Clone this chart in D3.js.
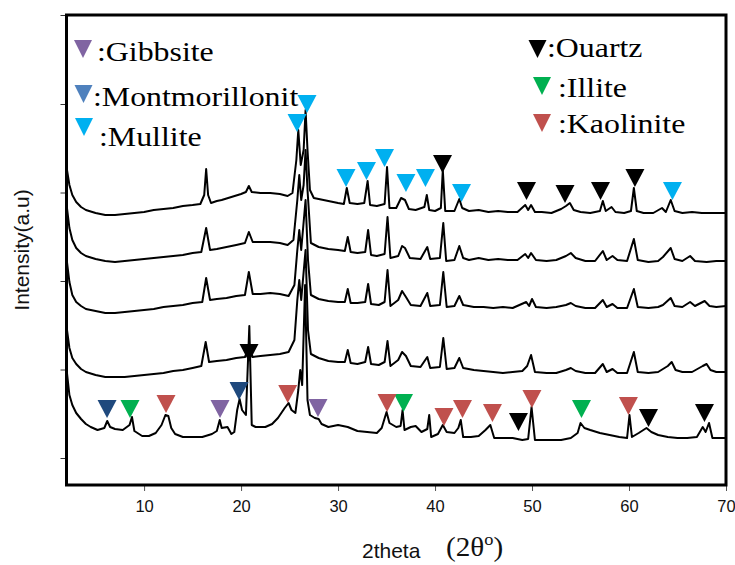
<!DOCTYPE html>
<html><head><meta charset="utf-8">
<script src="https://cdn.jsdelivr.net/npm/d3@7"></script>
<style>body{margin:0;background:#fff}svg{display:block}</style>
</head><body>
<svg id="c" width="735" height="565"></svg>
<script>
// ---- data (2theta, intensity a.u.) ----
const xTicks = [10,20,30,40,50,60,70];
const yTicks = [27,115.5,204,292.5,381,470];

const trace1 = [[2.05,315],[2.3,300],[2.6,290],[3,283],[3.5,278],[4,275],[5,272],[6,270],[7,270],[8,271],[9,272],[10,273],[11,275],[12,276],[13,277],[14,279],[15,280],[15.8,281],[16.2,290],[16.4,316],[16.6,290],[16.9,282],[17.5,284],[18,285],[19,288],[20,291],[20.5,293],[20.8,299],[21.1,293],[22,292],[23,292],[24,291],[24.8,289],[25.3,292],[25.7,325],[25.9,355],[26.15,320],[26.45,335],[26.65,375],[26.85,335],[27.1,295],[27.5,287],[28,286],[29,284],[30,282],[30.6,281],[30.9,297],[31.2,282],[32,281],[32.7,282],[33.05,304],[33.3,280],[34,279],[34.8,281],[35.05,318],[35.3,277],[36,277],[36.5,287],[36.9,285],[37.3,276],[38,275],[38.9,278],[39.15,290],[39.4,275],[40,274],[40.6,277],[40.8,315],[41.05,274],[42,274],[42.5,286],[42.8,277],[43.5,274],[44.5,275],[45.5,273],[46.5,274],[47.5,273],[48.5,273],[49.3,280],[49.6,275],[49.9,280],[50.3,273],[51,273],[52,272],[53,276],[53.5,279],[53.9,282],[54.3,275],[55,273],[56,272],[57,274],[57.3,284],[57.6,274],[58.2,278],[58.6,273],[59.5,272],[60.2,274],[60.5,297],[60.8,274],[61.5,272],[62.5,272],[63.4,277],[63.8,273],[64.3,285],[64.7,274],[65.5,272],[66.5,273],[67.5,272],[68.5,272],[70,272]];

const trace2 = [[2.05,277],[2.3,257],[2.6,245],[3,237],[3.5,232],[4,229],[5,226],[6,224],[7,223],[8,224],[9,225],[10,226],[11,227],[12,228],[13,229],[14,230],[15,232],[15.9,233],[16.4,257],[16.8,235],[17.5,236],[18.5,238],[19.5,240],[20.4,242],[20.8,253],[21.2,243],[22,243],[23,243],[24,242],[24.8,240],[25.4,245],[25.8,285],[26,310],[26.2,285],[26.45,300],[26.65,335],[26.85,295],[27.2,242],[28,238],[29,236],[30,235],[30.7,234],[31,248],[31.3,233],[32,232],[32.8,233],[33.1,255],[33.4,230],[34,229],[34.8,231],[35.1,268],[35.4,227],[36.2,229],[36.6,239],[36.9,237],[37.4,227],[38.5,226],[39.2,238],[39.5,226],[40.5,227],[40.85,262],[41.15,224],[42,225],[42.5,239],[42.9,227],[43.5,225],[44.5,227],[45.5,225],[46.5,226],[47.5,225],[48.5,225],[49.3,231],[49.6,227],[49.9,232],[50.4,225],[51.5,224],[52.5,225],[53.5,229],[54,232],[54.5,227],[55.5,224],[56.5,224],[57.3,234],[57.7,225],[58.3,229],[58.8,225],[59.8,224],[60.5,246],[60.9,225],[62,223],[63,224],[63.5,228],[64.3,237],[64.7,226],[65.5,224],[66.3,229],[66.8,224],[68,223],[69,224],[70,224]];

const trace3 = [[2.05,223],[2.3,203],[2.6,190],[3,183],[3.5,179],[4,176],[5,174],[6,172],[7,172],[8,173],[9,174],[10,175],[11,176],[12,178],[13,179],[14,180],[15,182],[16,183],[16.4,207],[16.8,185],[17.5,186],[18.5,187],[19.5,189],[20.4,190],[20.8,213],[21.2,191],[22,191],[23,192],[24,191],[24.9,189],[25.5,200],[25.8,235],[26,255],[26.2,235],[26.65,285],[26.9,225],[27.2,190],[28,186],[29,184],[30,183],[30.7,183],[31,196],[31.3,182],[32,182],[32.8,183],[33.1,201],[33.4,181],[34.2,180],[34.8,183],[35.1,215],[35.4,179],[36.2,185],[36.6,194],[37,188],[37.5,180],[38.5,179],[39.2,192],[39.5,179],[40.5,180],[40.85,213],[41.2,178],[42,179],[42.5,189],[42.9,180],[44,178],[45,178],[46,177],[47,178],[48,177],[49.4,183],[49.7,179],[50,186],[50.4,178],[51.5,177],[52.5,178],[53.5,180],[54,182],[54.5,179],[55.5,177],[56.5,177],[57.3,185],[57.7,178],[58.3,181],[58.8,177],[59.8,177],[60.5,196],[60.9,178],[62,177],[63,178],[63.5,180],[64.3,187],[64.7,179],[65.5,178],[66.3,183],[66.8,179],[67.8,184],[68.3,179],[69,178],[70,179]];

const trace4 = [[2.05,155],[2.3,137],[2.6,127],[3,121],[3.5,116],[4,113],[5,110],[6,108],[7,108],[8,108],[9,109],[10,110],[11,111],[12,112],[13,114],[14,115],[15,117],[15.9,119],[16.35,143],[16.7,123],[17.5,124],[18.5,125],[19.5,127],[20.4,128],[20.8,137],[21.2,128],[22,129],[23,130],[24,131],[24.9,133],[25.5,145],[25.8,185],[26,205],[26.2,185],[26.65,235],[26.9,155],[27.2,131],[28,127],[29,124],[30,123],[30.7,123],[31,135],[31.3,122],[32,121],[32.8,123],[33.1,138],[33.4,121],[34.2,120],[34.8,123],[35.1,144],[35.4,119],[36.2,125],[36.6,133],[37,129],[37.5,119],[38.5,118],[39.2,128],[39.5,117],[40.5,118],[40.85,147],[41.2,116],[42,117],[42.5,127],[42.9,117],[44,115],[45,114],[46,113],[47,112],[48,113],[49,114],[49.5,119],[49.9,130],[50.3,113],[51.5,112],[52.5,112],[53.5,115],[54,117],[54.5,114],[55.5,112],[56.5,112],[57.3,121],[57.7,113],[58.3,116],[58.8,112],[59.8,112],[60.5,133],[60.9,113],[62,112],[63,113],[64,119],[64.4,123],[64.8,115],[65.5,113],[66.5,113],[67.6,119],[68,121],[68.4,115],[69,113],[70,113]];

const trace5 = [[2.05,112],[2.3,90],[2.6,80],[3,72],[3.5,66],[4,61],[4.5,58],[5.2,55],[5.9,57],[6.2,64],[6.5,58],[7,56],[7.8,55],[8.5,60],[8.75,68],[9,54],[9.8,49],[10.5,49],[11.2,52],[11.8,60],[12.2,70],[12.5,69],[12.8,57],[13.2,51],[14,48],[15,48],[16,48],[17,51],[17.5,54],[17.8,65],[18,57],[18.6,58],[19,51],[19.3,53],[19.6,75],[19.85,86],[20.1,75],[20.5,70],[20.85,159],[21.1,60],[21.5,58],[22.5,58],[23.2,61],[23.8,67],[24.5,77],[24.9,82],[25.2,75],[25.6,72],[25.9,95],[26.1,115],[26.3,100],[26.6,200],[26.85,85],[27.1,70],[27.6,67],[28,66],[28.3,61],[29,58],[30,60],[31,58],[32,54],[33,53],[34,52],[34.5,57],[35,73],[35.3,62],[36,58],[36.45,59],[36.65,75],[36.85,55],[37.5,58],[38,59],[38.6,53],[39.2,56],[39.4,70],[39.6,48],[40.3,51],[40.8,60],[41.2,53],[42,52],[42.4,57],[42.65,65],[42.9,48],[43.7,48],[44.5,49],[45.2,55],[45.7,60],[46.1,47],[47,47],[48,47],[49,45],[49.6,46],[49.95,78],[50.3,45],[51,45],[52,45],[53,45],[54,47],[54.7,52],[55,62],[55.4,57],[56,55],[57,52],[58,50],[59,48],[59.8,47],[60.05,70],[60.3,48],[61,52],[61.8,57],[62.3,53],[63,50],[64,48],[65,47],[66,47],[67,48],[67.6,58],[67.9,53],[68.25,62],[68.6,47],[69.3,47],[70,47]];

// phase markers: [2theta, intensity at marker tip]
const mulliteMarks = [[25.77,353],[26.8,372],[30.82,298],[32.93,305],[34.79,318],[37.0,293],[39.01,298],[42.73,283],[64.48,285]];
const quartzMarks = [[40.77,312],[49.43,285],[53.4,282],[57.06,285],[60.61,298],[20.82,123],[48.6,54],[62.01,58],[67.78,63]];
const montMarks = [[6.18,67],[19.79,85]];
const illiteMarks = [[8.55,67],[36.75,73],[55.1,67]];
const kaoliniteMarks = [[12.26,72],[24.81,82],[35.05,73],[40.92,59],[42.83,67],[45.92,63],[49.99,77],[59.94,70]];
const gibbsiteMarks = [[17.83,67],[27.93,68]];

const legendNames = [":Gibbsite",":Montmorillonit",":Mullite",":Ouartz",":Illite",":Kaolinite"];
const legendColors = ["#8064A2","#4F81BD","#00B0F0","#000000","#00B050","#C0504D"];

// ---- drawing ----
const svg = d3.select("#c");
const L=66.5, R=726, T=15, B=485;
const x = d3.scaleLinear().domain([2,70]).range([L,R]);
const y = d3.scaleLinear().domain([0,470]).range([B,T]);

svg.append("defs").append("clipPath").attr("id","clip")
  .append("rect").attr("x",L).attr("y",T).attr("width",R-L).attr("height",B-T);

// axes ticks
const xa = svg.append("g").attr("transform",`translate(0,${B})`)
  .call(d3.axisBottom(x).tickValues(xTicks).tickSize(6).tickSizeOuter(0).tickPadding(9));
xa.select(".domain").remove();
xa.selectAll("line").attr("stroke","#555");
xa.selectAll("text").attr("font-family","Liberation Sans, Arial, sans-serif").attr("font-size","16.5px").attr("fill","#111");

const ya = svg.append("g").attr("transform",`translate(${L},0)`)
  .call(d3.axisLeft(y).tickValues(yTicks).tickSize(6).tickSizeOuter(0).tickFormat(""));
ya.select(".domain").remove();
ya.selectAll("line").attr("stroke","#333");

// traces
const line = d3.line().x(d=>x(d[0])).y(d=>y(d[1]));
const g = svg.append("g").attr("clip-path","url(#clip)");
[trace1,trace2,trace3,trace4,trace5].forEach(t=>{
  g.append("path").datum(t).attr("d",line).attr("fill","none")
   .attr("stroke","#000").attr("stroke-width",2).attr("stroke-linejoin","round");
});

// frame
svg.append("rect").attr("x",L).attr("y",T).attr("width",R-L).attr("height",B-T)
  .attr("fill","none").attr("stroke","#000").attr("stroke-width",3);

// markers
function tri(cx, tipY, w, h){ return `M${cx-w/2},${tipY-h}L${cx+w/2},${tipY-h}L${cx},${tipY}Z`; }
const markerSets = [
  [mulliteMarks,"#00B0F0"],[quartzMarks,"#000000"],[montMarks,"#1F497D"],
  [illiteMarks,"#00B050"],[kaoliniteMarks,"#C0504D"],[gibbsiteMarks,"#8064A2"]
];
markerSets.forEach(([arr,col])=>{
  svg.append("g").selectAll("path").data(arr).join("path")
    .attr("d",d=>tri(x(d[0]),y(d[1]),19,18)).attr("fill",col);
});

// legend
const legPos = [[83,58,97,61],[83.5,103,93,106],[84,136,99,146],[537.5,58,547,57],[542,95,558,97],[542,132,558,133]];
legendNames.forEach((n,i)=>{
  const p = legPos[i];
  svg.append("path").attr("d",tri(p[0],p[1],18,18)).attr("fill",legendColors[i]);
  svg.append("text").attr("transform",`translate(${p[2]},${p[3]}) scale(1.18,1)`)
    .attr("font-family","Liberation Serif, Times New Roman, serif").attr("font-size","27px")
    .attr("fill","#000").text(n);
});

// axis titles
svg.append("text").attr("transform","translate(29,250) rotate(-90)").attr("text-anchor","middle")
  .attr("font-family","Liberation Sans, Arial, sans-serif").attr("font-size","21px").attr("fill","#111")
  .text("Intensity(a.u)");
svg.append("text").attr("x",362).attr("y",558)
  .attr("font-family","Liberation Sans, Arial, sans-serif").attr("font-size","21px").attr("fill","#111")
  .text("2theta");
const t2 = svg.append("text").attr("transform","translate(446,556) scale(1.08,1)")
  .attr("font-family","Liberation Serif, Times New Roman, serif").attr("font-size","27px").attr("fill","#111");
t2.append("tspan").text("(2θ");
t2.append("tspan").attr("font-size","17px").attr("dy","-11").text("o");
t2.append("tspan").attr("dy","11").text(")");
</script>
</body></html>
